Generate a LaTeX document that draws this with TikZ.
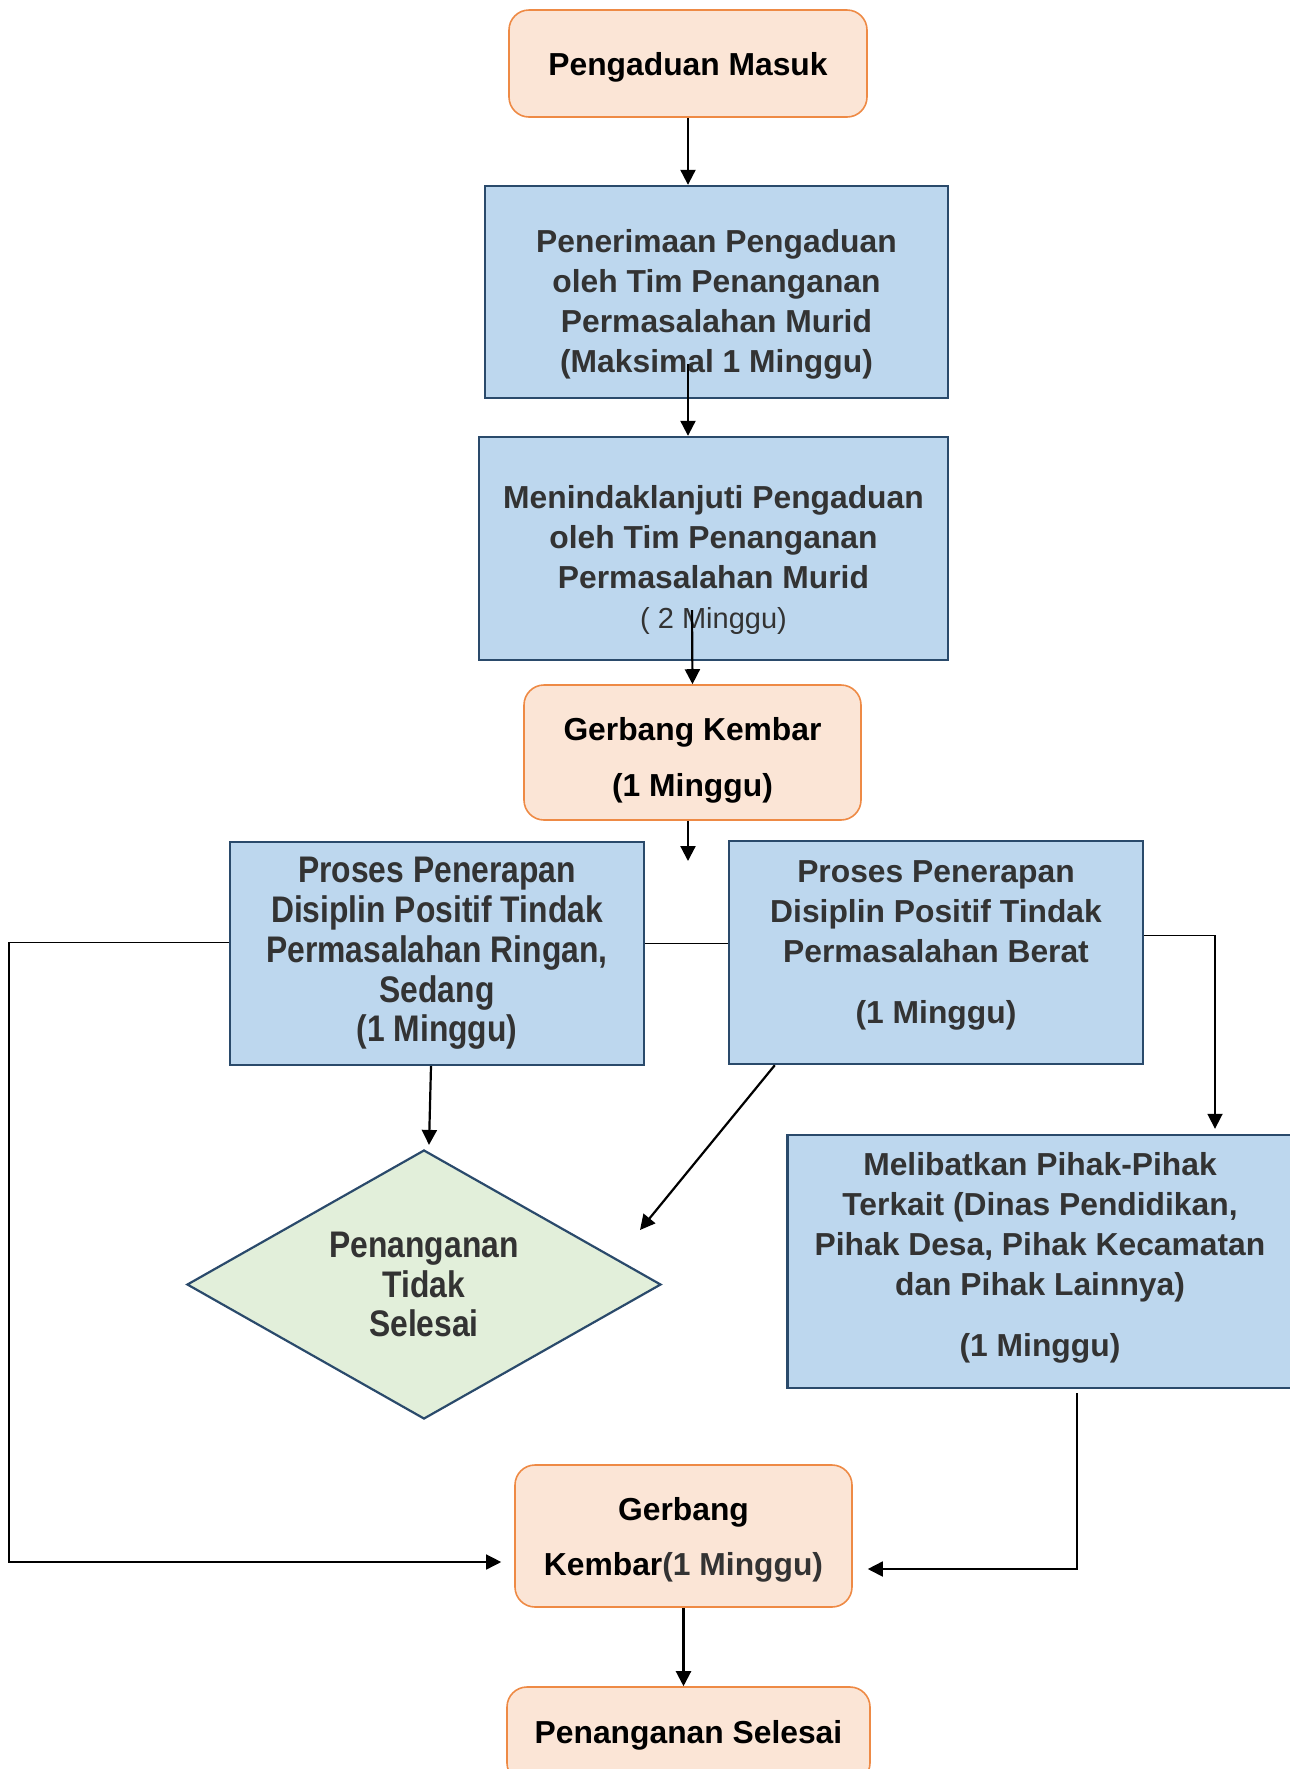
\documentclass[tikz,border=0pt]{standalone}
\usepackage{fontspec}
\setmainfont{Liberation Sans}
\newfontfamily\narrowsf[FakeStretch=0.86]{Liberation Sans}
\usepackage{tikz}
\usetikzlibrary{arrows.meta}
\usetikzlibrary{shapes.geometric}
\usetikzlibrary{positioning}
\definecolor{orangefill}{HTML}{FBE5D6}
\definecolor{orangeline}{HTML}{EE8A45}
\definecolor{bluefill}{HTML}{BDD7EE}
\definecolor{blueline}{HTML}{2A4A6B}
\definecolor{greenfill}{HTML}{E2EFDA}
\definecolor{txtgrey}{HTML}{333333}

\begin{document}
\begin{tikzpicture}[x=0.5pt, y=0.5pt,
every node/.style={align=center, inner sep=2pt, font=\fontsize{15.9pt}{19.9pt}\selectfont\bfseries},
orangebox/.style={draw=orangeline, fill=orangefill, line width=0.8pt, rounded corners=10pt},
bluebox/.style={draw=blueline, fill=bluefill, line width=1.2pt, text=txtgrey},
greendiamond/.style={diamond, aspect=1.76, draw=blueline, fill=greenfill, line width=1.1pt, text=txtgrey, inner sep=0pt},
narrow/.style={font=\narrowsf\fontsize{18.5pt}{19.9pt}\selectfont\bfseries},
arr/.style={-{Triangle[width=7.5pt,length=7.5pt]}, line width=1.1pt}]
\useasboundingbox (0,0) rectangle (1290,-1769);
% boxes
\node[orangebox, minimum width=179pt, minimum height=53.5pt] (masuk) at (688,-63.5) {\rule{0pt}{15pt}Pengaduan Masuk};
\node[bluebox, minimum width=231.5pt, minimum height=106pt] (terima) at (716.5,-292) {\rule{0pt}{24pt}Penerimaan Pengaduan\\oleh Tim Penanganan\\Permasalahan Murid\\(Maksimal 1 Minggu)};
\node[bluebox, minimum width=234.5pt, minimum height=111.5pt] (lanjut) at (713.5,-548.5) {\rule{0pt}{22.8pt}Menindaklanjuti Pengaduan\\oleh Tim Penanganan\\Permasalahan Murid\\{\mdseries\fontsize{14.5pt}{19.9pt}\selectfont( 2 Minggu)}};
\node[orangebox, minimum width=168.5pt, minimum height=67.5pt, font=\fontsize{15.9pt}{28pt}\selectfont\bfseries] (gerbangA) at (692.5,-752.5) {\rule{0pt}{19.6pt}Gerbang Kembar\\(1 Minggu)};
\node[bluebox, narrow, minimum width=207pt, minimum height=111.5pt] (ringan) at (437,-953.5) {Proses Penerapan\\Disiplin Positif Tindak\\Permasalahan Ringan,\\Sedang\\(1 Minggu)};
\node[bluebox, minimum width=207pt, minimum height=111.5pt] (berat) at (936,-952.5) {Proses Penerapan\\Disiplin Positif Tindak\\Permasalahan Berat\\[11pt](1 Minggu)\rule[-10.2pt]{0pt}{10.2pt}};
\node[bluebox, minimum width=252.5pt, minimum height=126.5pt] (libat) at (1040,-1261.5) {Melibatkan Pihak-Pihak\\Terkait (Dinas Pendidikan,\\Pihak Desa, Pihak Kecamatan\\dan Pihak Lainnya)\\[11pt](1 Minggu)\rule[-6.8pt]{0pt}{6.8pt}};
\node[greendiamond, narrow, minimum width=237pt, minimum height=134.5pt] (tidak) at (424,-1284.5) {Penanganan\\Tidak\\Selesai};
\node[orangebox, minimum width=168.5pt, minimum height=71pt, font=\fontsize{15.9pt}{27.5pt}\selectfont\bfseries] (gerbangB) at (683.5,-1536) {\rule{0pt}{15pt}Gerbang\\Kembar{\color{txtgrey}(1 Minggu)}};
\node[orangebox, minimum width=181.5pt, minimum height=48pt] (selesai) at (688.5,-1735) {Penanganan Selesai};
\coordinate (gap) at (688,-861);
\coordinate (tidakin) at (640,-1230);
\coordinate (leftrail) at (9,-942.5);
% connectors
\foreach \i/\j in {masuk/terima, gerbangB/selesai}{
\draw[arr] (\i.south) -- (\i.south |- \j.north);}
\draw[arr] ([xshift=-14.25pt,yshift=17.5pt]terima.south) -- ([xshift=-12.75pt]lanjut.north);
\draw[arr] ([xshift=-10.75pt,yshift=25.5pt]lanjut.south) -- (gerbangA.north);
\draw[arr] ([xshift=-2.25pt]gerbangA.south) -- (gap);
\draw[line width=0.7pt] ([yshift=5pt]ringan.east) -- ([yshift=5pt]ringan.east -| berat.west);
\draw[arr, line width=0.7pt] ([yshift=5.5pt]ringan.west) -- (leftrail) |- ([xshift=-6.5pt,yshift=-13pt]gerbangB.west);
\draw[arr, line width=0.9pt] ([yshift=8.5pt]berat.east) -| ([xshift=87.5pt,yshift=2.5pt]libat.north);
\draw[arr] ([xshift=23.5pt]berat.south west) -- (tidakin);
\draw[arr] ([xshift=-3pt]ringan.south) -- ([xshift=2.5pt,yshift=2pt]tidak.north);
\draw[arr, line width=0.9pt] ([xshift=18.5pt,yshift=-2pt]libat.south) |- ([xshift=7.5pt,yshift=-16.5pt]gerbangB.east);
\end{tikzpicture}
\end{document}
